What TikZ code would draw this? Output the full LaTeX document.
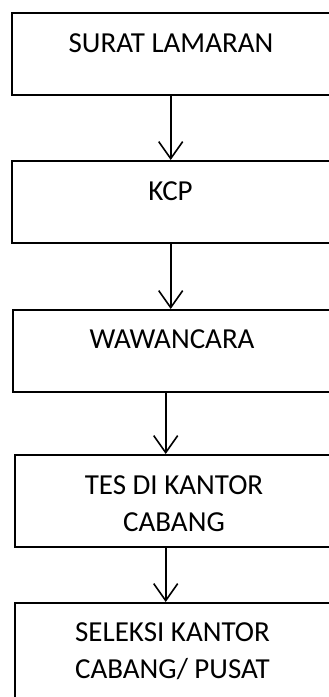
\documentclass[tikz,border=0pt]{standalone}
\usepackage{fontspec}
\setmainfont{Carlito}
\usetikzlibrary{arrows.meta}
\tikzset{
  stepbox/.style={draw=black, line width=2pt, rectangle, anchor=north west, inner sep=0pt, minimum width=400pt},
  label/.style={inner sep=0pt, anchor=base, align=center, font=\fontsize{29pt}{37pt}\selectfont},
  arr/.style={line width=1.6pt, -{Straight Barb[length=17pt,width=24pt,line width=1.6pt]}}
}
\begin{document}
\begin{tikzpicture}[x=1pt,y=-1pt]
\useasboundingbox (0,0) rectangle (329,697);
\clip (0,0) rectangle (329,697);
\node[stepbox, minimum height=82pt] (b1) at (11,12) {};
\node[stepbox, minimum height=82pt] (b2) at (11,160) {};
\node[stepbox, minimum height=82pt] (b3) at (12,309) {};
\node[stepbox, minimum height=92pt] (b4) at (14,454) {};
\node[stepbox, minimum height=110pt] (b5) at (14,602) {};
\node[label] (t1) at (171,52) {SURAT LAMARAN};
\node[label] (t2) at (170.5,200) {KCP};
\node[label] (t3) at (172,348) {WAWANCARA};
\node[label] (t4) at (174,531) {TES DI KANTOR\\CABANG};
\node[label] (t5) at (172.5,678) {SELEKSI KANTOR\\CABANG/ PUSAT};
\coordinate (x1) at (170.7,0);
\coordinate (x2) at (165.7,0);
\draw[arr] (b1.south -| x1) -- (b2.north -| x1);
\draw[arr] (b2.south -| x1) -- (b3.north -| x1);
\draw[arr] (b3.south -| x2) -- (b4.north -| x2);
\draw[arr] (b4.south -| x2) -- (b5.north -| x2);
\end{tikzpicture}
\end{document}
